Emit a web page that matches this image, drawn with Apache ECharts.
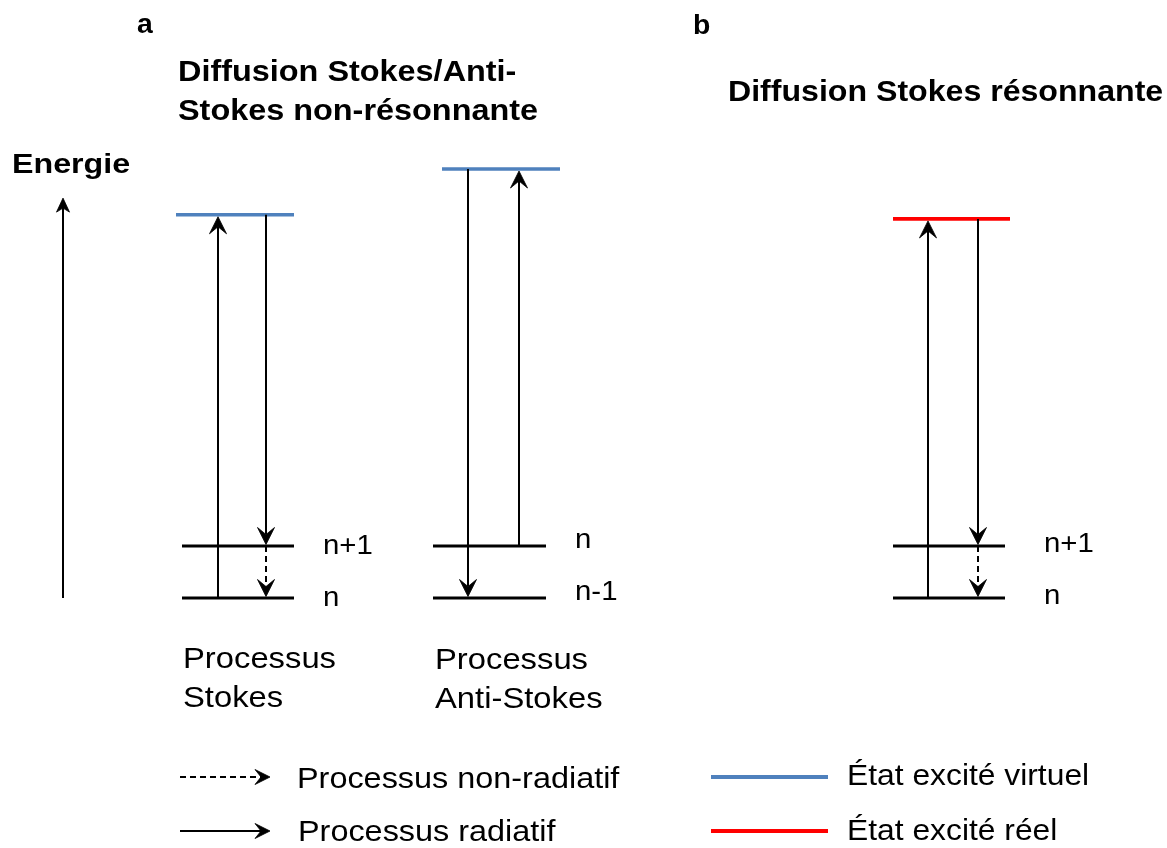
<!DOCTYPE html>
<html>
<head>
<meta charset="utf-8">
<script src="https://cdn.jsdelivr.net/npm/echarts@6/dist/echarts.min.js"></script>
<style>html,body{margin:0;padding:0;background:#fff}#c{width:1167px;height:848px}</style>
</head>
<body>
<div id="c"></div>
<script>
// ---------------- data ----------------
const panelNames   = ['Stokes', 'Anti-Stokes', 'Stokes résonnante'];
// energy levels (energy in units of one vibrational quantum above the lowest drawn level)
const levelPanel   = [0, 0, 0, 1, 1, 1, 2, 2, 2];
const levelEnergy  = [0, 1, 7.37, 0, 1, 8.25, 0, 1, 7.29];
const levelKind    = ['ground', 'ground', 'virtual', 'ground', 'ground', 'virtual', 'ground', 'ground', 'real'];
const levelLabels  = ['n', 'n+1', '', 'n-1', 'n', '', 'n', 'n+1', ''];
// transitions
const transPanel   = [0, 0, 0, 1, 1, 2, 2, 2];
const transFrom    = [0, 7.37, 1, 1, 8.25, 0, 7.29, 1];
const transTo      = [7.37, 1, 0, 8.25, 0, 7.29, 1, 0];
const transSlot    = ['left', 'right', 'right', 'right', 'left', 'left', 'right', 'right'];
const transKind    = ['radiatif', 'radiatif', 'non-radiatif', 'radiatif', 'radiatif', 'radiatif', 'radiatif', 'non-radiatif'];
// energy axis arrow
const energyAxisRange = [0, 7.69];
const energyAxisLabel = 'Energie';
// texts
const panelLetters  = ['a', 'b'];
const panelTitles   = [['Diffusion Stokes/Anti-', 'Stokes non-résonnante'], ['Diffusion Stokes résonnante']];
const processLabels = [['Processus', 'Stokes'], ['Processus', 'Anti-Stokes']];
const legendLabels  = ['Processus non-radiatif', 'Processus radiatif', 'État excité virtuel', 'État excité réel'];

// ---------------- layout & style ----------------
const layout = {
  panels: [
    { ground: [182, 294], excited: [176, 294], left: 218, right: 266, labelX: 323, labelDy: 0 },
    { ground: [433, 546], excited: [442, 560], left: 468, right: 519, labelX: 575, labelDy: -6 },
    { ground: [893, 1005], excited: [893, 1010], left: 928, right: 978, labelX: 1044, labelDy: -2 }
  ],
  axisX: 63
};
const colors = { ground: '#000000', virtual: '#4F81BD', real: '#FF0000', arrow: '#000000' };
const FONT = '"Liberation Sans", Arial, sans-serif';

function arrowEls(x1, y1, x2, y2, opt) {
  const len = Math.hypot(x2 - x1, y2 - y1) || 1;
  const dx = (x2 - x1) / len, dy = (y2 - y1) / len;
  const nx = -dy, ny = dx;
  const L = opt.headLen, H = opt.headHalf, N = opt.notch;
  const pts = [
    [x2, y2],
    [x2 - dx * L + nx * H, y2 - dy * L + ny * H],
    [x2 - dx * N, y2 - dy * N],
    [x2 - dx * L - nx * H, y2 - dy * L - ny * H]
  ];
  return [
    { type: 'line', shape: { x1: x1, y1: y1, x2: x2 - dx * N, y2: y2 - dy * N },
      style: { stroke: colors.arrow, lineWidth: opt.lw, lineDash: opt.dashed ? [6, 4] : null } },
    { type: 'polygon', shape: { points: pts }, style: { fill: colors.arrow, stroke: colors.arrow, lineWidth: 0.8, lineJoin: 'miter' } }
  ];
}

const chart = echarts.init(document.getElementById('c'), null, { renderer: 'canvas' });

const graphics = [];
function txt(s, x, y, size, bold, sx) {
  graphics.push({
    type: 'text', x: x, y: y, scaleX: sx || 1,
    style: { text: s, font: (bold ? 'bold ' : '') + size + 'px ' + FONT, fill: '#000', align: 'left', verticalAlign: 'middle' }
  });
}
// panel letters
txt(panelLetters[0], 137, 26, 27, true, 1.05);
txt(panelLetters[1], 693, 27, 27, true, 1.05);
// titles
txt(panelTitles[0][0], 178, 73, 30, true, 1.08);
txt(panelTitles[0][1], 178, 112, 30, true, 1.08);
txt(panelTitles[1][0], 728, 93, 30, true, 1.07);
// energy label
txt(energyAxisLabel, 12, 165, 28, true, 1.15);
// process labels
txt(processLabels[0][0], 183, 660, 29, false, 1.13);
txt(processLabels[0][1], 183, 699, 29, false, 1.13);
txt(processLabels[1][0], 435, 661, 29, false, 1.13);
txt(processLabels[1][1], 435, 700, 29, false, 1.13);
// legend
const legY = [777, 831];
arrowEls(180, legY[0], 270, legY[0], { headLen: 15, headHalf: 7.5, notch: 9, lw: 2, dashed: true })
  .forEach(e => graphics.push(e));
arrowEls(180, legY[1], 270, legY[1], { headLen: 15, headHalf: 7.5, notch: 9, lw: 2, dashed: false })
  .forEach(e => graphics.push(e));
txt(legendLabels[0], 297, 780, 30, false, 1.08);
txt(legendLabels[1], 298, 833, 30, false, 1.08);
graphics.push({ type: 'line', shape: { x1: 711, y1: legY[0], x2: 828, y2: legY[0] }, style: { stroke: colors.virtual, lineWidth: 4 } });
graphics.push({ type: 'line', shape: { x1: 711, y1: legY[1], x2: 828, y2: legY[1] }, style: { stroke: colors.real, lineWidth: 4 } });
txt(legendLabels[2], 847, 777, 30, false, 1.06);
txt(legendLabels[3], 847, 832, 30, false, 1.06);

const option = {
  animation: false,
  backgroundColor: '#ffffff',
  grid: { left: 0, right: 0, top: 0, bottom: 0 },
  xAxis: { type: 'value', min: 0, max: 1167, show: false },
  yAxis: { type: 'value', min: -250 / 52, max: 598 / 52, show: false },
  graphic: graphics,
  series: [
    {
      name: 'niveaux', type: 'custom',
      data: levelEnergy.map((e, i) => [i, e]),
      encode: { x: 0, y: 1 },
      renderItem: function (params, api) {
        const i = api.value(0);
        const p = layout.panels[levelPanel[i]];
        const kind = levelKind[i];
        const e = levelEnergy[i];
        const range = kind === 'ground' ? p.ground : p.excited;
        const a = api.coord([range[0], e]);
        const b = api.coord([range[1], e]);
        const children = [{
          type: 'line', shape: { x1: a[0], y1: a[1], x2: b[0], y2: b[1] },
          style: { stroke: colors[kind], lineWidth: kind === 'ground' ? 3.2 : 3.6 }
        }];
        if (levelLabels[i]) {
          children.push({
            type: 'text', x: api.coord([p.labelX, e])[0], y: a[1] + p.labelDy, scaleX: 1.05,
            style: { text: levelLabels[i], font: '28px ' + FONT, fill: '#000', align: 'left', verticalAlign: 'middle' }
          });
        }
        return { type: 'group', children: children };
      }
    },
    {
      name: 'transitions', type: 'custom',
      data: transFrom.map((f, i) => [i, f, transTo[i]]),
      encode: { x: 0, y: [1, 2] },
      renderItem: function (params, api) {
        const i = api.value(0);
        const p = layout.panels[transPanel[i]];
        const x = p[transSlot[i]];
        const s = api.coord([x, transFrom[i]]);
        const t = api.coord([x, transTo[i]]);
        const up = t[1] < s[1];
        const tipY = up ? t[1] + 2 : t[1] - 1.5;
        return {
          type: 'group',
          children: arrowEls(s[0], s[1], t[0], tipY,
            { headLen: 17, headHalf: 8.5, notch: 10, lw: 2, dashed: transKind[i] === 'non-radiatif' })
        };
      }
    },
    {
      name: 'axe énergie', type: 'custom',
      data: [[0, energyAxisRange[0], energyAxisRange[1]]],
      encode: { x: 0, y: [1, 2] },
      renderItem: function (params, api) {
        const s = api.coord([layout.axisX, energyAxisRange[0]]);
        const t = api.coord([layout.axisX, energyAxisRange[1]]);
        return { type: 'group', children: arrowEls(s[0], s[1], t[0], t[1], { headLen: 14, headHalf: 6.5, notch: 10, lw: 2, dashed: false }) };
      }
    }
  ]
};
chart.setOption(option);
</script>
</body>
</html>
